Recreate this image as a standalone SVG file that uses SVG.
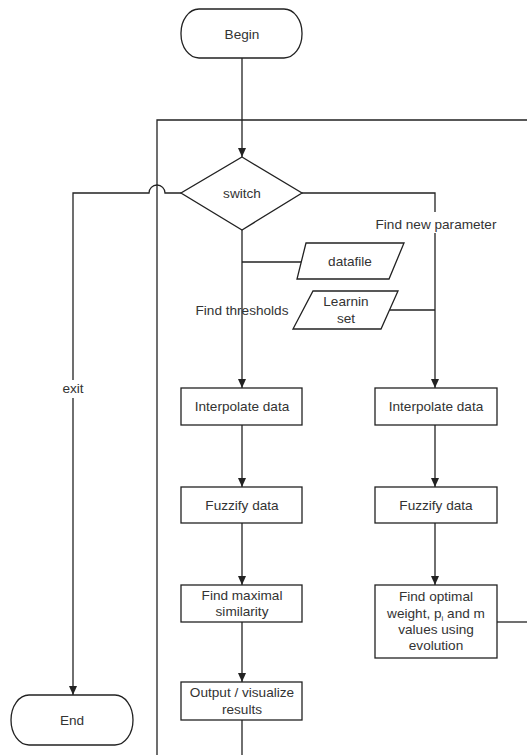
<svg xmlns="http://www.w3.org/2000/svg" width="527" height="755" viewBox="0 0 527 755">
<style>
.s{fill:#fff;stroke:#222;stroke-width:1.3}
.c{fill:none;stroke:#222;stroke-width:1.3}
text{font-family:"Liberation Sans",Arial,sans-serif;font-size:13.6px;fill:#333;text-anchor:middle}
</style>
<defs>
<marker id="a" markerWidth="10" markerHeight="10" refX="9" refY="5" orient="auto" markerUnits="userSpaceOnUse">
<path d="M0,1 L9,5 L0,9 Z" fill="#222"/>
</marker>
</defs>
<g id="connectors">
<path class="c" d="M242,58 V157" marker-end="url(#a)"/>
<path class="c" d="M157,755 V120 H527"/>
<path class="c" d="M181,193 H165 A8,8 0 0 0 149,193 H73 V380"/>
<path class="c" d="M73,398 V695" marker-end="url(#a)"/>
<path class="c" d="M302,193 H435 V212"/>
<path class="c" d="M435,233 V388" marker-end="url(#a)"/>
<path class="c" d="M242,230 V388" marker-end="url(#a)"/>
<path class="c" d="M242,262 H306"/>
<path class="c" d="M390,310 H435"/>
<path class="c" d="M242,425 V487" marker-end="url(#a)"/>
<path class="c" d="M242,523 V585" marker-end="url(#a)"/>
<path class="c" d="M242,622 V682" marker-end="url(#a)"/>
<path class="c" d="M242,720 V755"/>
<path class="c" d="M435,425 V487" marker-end="url(#a)"/>
<path class="c" d="M435,523 V585" marker-end="url(#a)"/>
<path class="c" d="M497,622 H527"/>
<text x="73" y="393">exit</text>
<text x="436" y="229">Find new parameter</text>
<text x="242" y="315">Find thresholds</text>
</g>
<g id="begin">
<rect class="s" x="181" y="9" width="121" height="49" rx="18" ry="24"/>
<text x="242" y="39">Begin</text>
</g>
<g id="switch">
<path class="s" d="M242,157 L302,193 L242,230 L181,193 Z"/>
<text x="242" y="198">switch</text>
</g>
<g id="datafile">
<path class="s" d="M306,243 H404 L389,279 H297 Z"/>
<text x="350" y="266">datafile</text>
</g>
<g id="learnin">
<path class="s" d="M313,291 H398 L381,329 H293 Z"/>
<text x="346" y="306">Learnin</text>
<text x="346" y="323">set</text>
</g>
<g id="interp1">
<rect class="s" x="181" y="388" width="121" height="37"/>
<text x="242" y="411">Interpolate data</text>
</g>
<g id="fuzzy1">
<rect class="s" x="181" y="487" width="121" height="36"/>
<text x="242" y="510">Fuzzify data</text>
</g>
<g id="maxsim">
<rect class="s" x="181" y="585" width="121" height="37"/>
<text x="242" y="600">Find maximal</text>
<text x="242" y="616">similarity</text>
</g>
<g id="output">
<rect class="s" x="181" y="682" width="121" height="38"/>
<text x="242" y="697">Output / visualize</text>
<text x="242" y="714">results</text>
</g>
<g id="interp2">
<rect class="s" x="375" y="388" width="122" height="37"/>
<text x="436" y="411">Interpolate data</text>
</g>
<g id="fuzzy2">
<rect class="s" x="375" y="487" width="122" height="36"/>
<text x="436" y="510">Fuzzify data</text>
</g>
<g id="optimal">
<rect class="s" x="375" y="585" width="122" height="73"/>
<text x="436" y="601">Find optimal</text>
<text x="436" y="618">weight, p<tspan font-size="8" dy="3">i</tspan><tspan dy="-3"> and m</tspan></text>
<text x="436" y="634">values using</text>
<text x="436" y="650">evolution</text>
</g>
<g id="end">
<rect class="s" x="11" y="695" width="122" height="50" rx="18" ry="25"/>
<text x="72" y="725">End</text>
</g>
</svg>
